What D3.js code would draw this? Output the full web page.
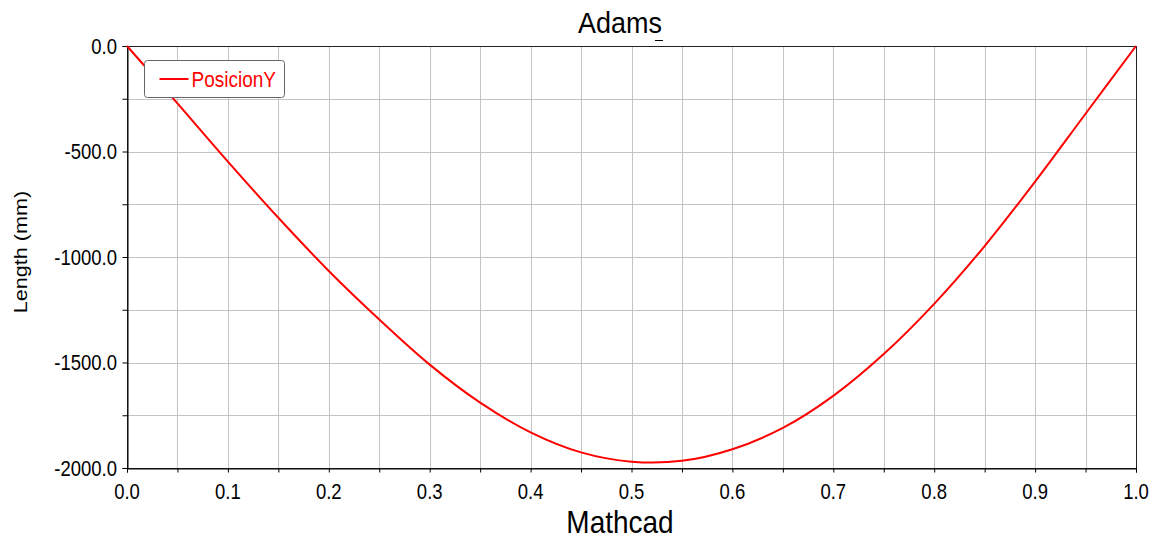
<!DOCTYPE html>
<html>
<head>
<meta charset="utf-8">
<script src="https://cdn.jsdelivr.net/npm/d3@7"></script>
<style>
  body { margin: 0; background: #fff; }
  text { font-family: "Liberation Sans", Arial, sans-serif; }
</style>
</head>
<body>
<div id="chart"></div>
<script>
// values
var xValues = [0, 0.05, 0.1, 0.15, 0.2, 0.25, 0.3, 0.35, 0.4, 0.45, 0.5, 0.55, 0.6, 0.65, 0.7, 0.75, 0.8, 0.85, 0.9, 0.95, 1.0];
var posY    = [0, -272, -548, -814, -1066, -1296, -1510, -1690, -1831, -1926, -1970, -1966, -1911, -1810, -1658, -1460, -1222, -948, -643, -321, 0];
var xTicks = d3.range(0, 1.0001, 0.05);
var xLabels = d3.range(0, 1.0001, 0.1);
var yTicks = d3.range(-2000, 1, 250);
var yLabels = d3.range(-2000, 1, 500);

var width = 1159, height = 542;
var margin = { top: 46, left: 127, right: 23, bottom: 74 };

var fmt = function(d) { return d3.format(".1f")(d).replace("\u2212", "-"); };

var svg = d3.select("#chart").append("svg")
    .attr("width", width)
    .attr("height", height);

var x = d3.scaleLinear().domain([0, 1]).range([margin.left, width - margin.right]);
var y = d3.scaleLinear().domain([-2000, 0]).range([height - margin.bottom, margin.top]);

// grid
svg.append("g").selectAll("line").data(xTicks.slice(1, -1))
  .enter().append("line")
    .attr("x1", function(d) { return Math.round(x(d)) + 0.5; })
    .attr("x2", function(d) { return Math.round(x(d)) + 0.5; })
    .attr("y1", y(0)).attr("y2", y(-2000))
    .attr("stroke", "#c4c4c4");
svg.append("g").selectAll("line").data(yTicks.slice(1, -1))
  .enter().append("line")
    .attr("y1", function(d) { return Math.round(y(d)) + 0.5; })
    .attr("y2", function(d) { return Math.round(y(d)) + 0.5; })
    .attr("x1", x(0)).attr("x2", x(1))
    .attr("stroke", "#c4c4c4");

// frame
svg.append("rect")
    .attr("x", x(0) + 0.5).attr("y", y(0) + 0.5)
    .attr("width", x(1) - x(0)).attr("height", y(-2000) - y(0))
    .attr("fill", "none").attr("stroke", "#222");

// axes
var xAxis = svg.append("g")
    .attr("transform", "translate(0," + (y(-2000) + 0.5) + ")")
    .call(d3.axisBottom(x).tickValues(xTicks).tickSize(4).tickFormat(""));
var yAxis = svg.append("g")
    .attr("transform", "translate(" + (x(0) + 0.5) + ",0)")
    .call(d3.axisLeft(y).tickValues(yTicks).tickSize(5).tickFormat(""));
[xAxis, yAxis].forEach(function(a) {
  a.select(".domain").attr("stroke", "#000");
  a.selectAll(".tick line").attr("stroke", "#000");
});

// tick labels
svg.append("g").selectAll("text").data(xLabels)
  .enter().append("text")
    .attr("transform", function(d) { return "translate(" + x(d) + "," + (y(-2000) + 31) + ") scale(1,1.15)"; })
    .attr("text-anchor", "middle")
    .style("font-size", "18.5px")
    .text(fmt);
svg.append("g").selectAll("text").data(yLabels)
  .enter().append("text")
    .attr("transform", function(d) { return "translate(" + (x(0) - 10) + "," + (y(d) + 7.5) + ") scale(1,1.15)"; })
    .attr("text-anchor", "end")
    .style("font-size", "18.5px")
    .text(fmt);

// line
var line = d3.line()
    .x(function(d, i) { return x(xValues[i]); })
    .y(function(d) { return y(d); })
    .curve(d3.curveCatmullRom);
svg.append("path")
    .datum(posY)
    .attr("d", line)
    .attr("fill", "none")
    .attr("stroke", "#ff0000")
    .attr("stroke-width", 2);

// title + axis labels
svg.append("text")
    .attr("transform", "translate(620,33) scale(1,1.12)")
    .attr("text-anchor", "middle")
    .style("font-size", "27px")
    .text("Adams");
svg.append("line")
    .attr("x1", 655).attr("x2", 663).attr("y1", 40.5).attr("y2", 40.5)
    .attr("stroke", "#000");

svg.append("text")
    .attr("transform", "translate(620,533) scale(1,1.12)")
    .attr("text-anchor", "middle")
    .style("font-size", "28px")
    .text("Mathcad");

svg.append("text")
    .attr("transform", "translate(27,252) scale(1,1.2) rotate(-90)")
    .attr("text-anchor", "middle")
    .style("font-size", "18px")
    .text("Length (mm)");

// legend
var legend = svg.append("g").attr("transform", "translate(144.5,60.5)");
legend.append("rect")
    .attr("width", 140).attr("height", 37).attr("rx", 3)
    .attr("fill", "#fff").attr("stroke", "#666");
legend.append("line")
    .attr("x1", 15).attr("x2", 44).attr("y1", 18.5).attr("y2", 18.5)
    .attr("stroke", "#ff0000").attr("stroke-width", 2);
legend.append("text")
    .attr("transform", "translate(47,26) scale(1,1.2)")
    .attr("fill", "#ff0000")
    .style("font-size", "19px")
    .text("PosicionY");
</script>
</body>
</html>
